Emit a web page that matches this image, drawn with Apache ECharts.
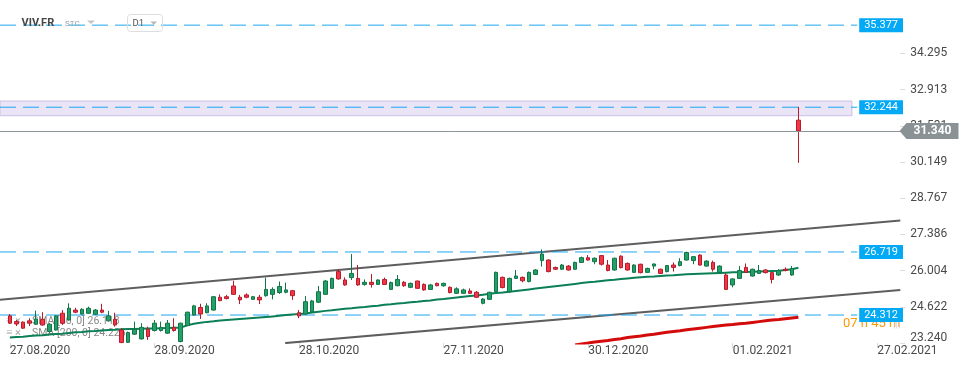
<!DOCTYPE html>
<html>
<head>
<meta charset="utf-8">
<script src="https://cdn.jsdelivr.net/npm/echarts@6/dist/echarts.min.js"></script>
<style>
html,body{margin:0;padding:0;background:#fff;}
#chart{width:970px;height:368px;}
</style>
</head>
<body>
<div id="chart"></div>
<script>
// ---- data ----
const xTickLabels = ['27.08.2020','28.09.2020','28.10.2020','27.11.2020','30.12.2020','01.02.2021','27.02.2021'];
const yTicks = [23.240, 24.622, 26.004, 27.386, 28.767, 30.149, 31.531, 32.913, 34.295];
const levels = [35.377, 32.244, 26.719, 24.312];
const zone = [31.92, 32.48];
const lastPrice = 31.340;
const upperChannel = [[-0.5, 24.893], [136.5, 27.920]];
const lowerChannel = [[42.9, 23.24], [136.5, 25.263]];

const open = [24.28,24.06,24.04,24.09,23.96,24.15,23.68,23.74,24.38,24.12,
 24.50,24.35,24.38,24.34,24.50,24.09,24.15,23.74,23.27,23.58,
 23.40,23.77,23.72,23.72,23.62,23.84,23.30,23.91,24.31,24.60,
 24.40,24.50,24.99,25.01,25.42,24.99,25.08,24.91,24.99,25.05,
 25.10,25.17,25.18,25.24,24.40,24.35,24.44,24.80,25.10,25.33,
 25.97,25.65,25.74,25.71,25.48,25.56,25.48,25.67,25.29,25.43,
 25.56,25.37,25.61,25.48,25.29,25.52,25.43,25.37,25.14,25.14,
 25.23,25.18,24.76,24.91,25.20,25.75,25.20,25.71,25.75,25.59,
 25.86,26.39,26.41,26.13,26.06,26.18,26.06,26.32,26.50,26.35,
 26.58,26.22,26.03,26.56,26.28,25.94,26.25,25.94,26.18,26.06,
 25.97,26.22,26.20,26.41,26.39,26.60,26.18,26.32,25.93,25.84,
 25.46,25.71,26.13,25.80,25.90,26.03,25.93,25.84,26.06,25.84,
 31.75];
const close = [24.00,23.97,23.81,24.00,24.16,23.93,23.96,24.28,24.00,24.57,
 24.42,24.53,24.57,24.50,24.42,24.28,23.93,23.26,23.64,23.77,
 23.84,23.49,24.00,23.84,24.00,23.72,24.00,24.42,24.66,24.35,
 24.66,25.01,24.86,24.94,25.10,24.89,24.99,25.01,24.89,25.29,
 25.29,25.40,25.27,25.05,24.28,24.82,24.85,25.20,25.61,25.71,
 25.69,25.46,25.90,25.46,25.56,25.48,25.65,25.48,25.55,25.67,
 25.43,25.52,25.33,25.27,25.46,25.43,25.52,25.17,25.31,25.27,
 25.14,24.99,24.92,25.18,25.94,25.36,25.71,25.80,25.62,25.94,
 26.03,26.64,25.97,26.06,26.22,26.03,26.32,26.50,26.41,26.48,
 26.25,26.01,26.48,26.12,26.03,26.22,25.93,26.09,26.26,25.90,
 26.20,26.13,26.35,26.70,26.54,26.22,26.37,26.06,26.18,25.29,
 25.69,26.01,25.94,26.06,26.01,25.93,25.67,26.01,26.01,26.09,
 31.34];
const low = [23.97,23.89,23.78,23.89,23.93,23.91,23.64,23.72,23.93,24.10,
 24.38,24.33,24.35,24.31,24.38,24.06,23.87,23.24,23.25,23.55,
 23.38,23.36,23.68,23.68,23.59,23.68,23.27,23.89,24.29,24.16,
 24.38,24.48,24.84,24.91,25.08,24.73,24.95,24.89,24.73,25.01,
 24.91,25.12,25.14,24.89,24.19,24.31,24.42,24.77,25.08,25.31,
 25.66,25.43,25.65,25.43,25.43,25.36,25.46,25.46,25.27,25.41,
 25.39,25.34,25.31,25.24,25.27,25.41,25.39,25.14,25.12,25.12,
 25.12,24.96,24.72,24.89,25.18,25.33,25.17,25.69,25.56,25.56,
 25.84,26.16,25.94,26.03,26.03,26.01,26.03,26.30,26.39,26.25,
 26.20,25.98,26.01,26.09,26.01,25.92,25.90,25.92,26.06,25.88,
 25.94,25.97,26.17,26.39,26.25,26.20,26.16,25.97,25.90,25.27,
 25.37,25.69,25.92,25.78,25.88,25.90,25.52,25.81,25.98,25.81,
 30.12];
const high = [24.35,24.12,24.07,24.19,24.48,24.42,24.00,24.31,24.50,24.76,
 24.59,24.57,24.63,24.54,24.74,24.47,24.40,23.81,23.68,24.06,
 24.00,23.87,24.12,24.06,24.12,24.19,24.02,24.44,24.70,24.74,
 24.76,25.04,25.10,25.08,25.62,25.08,25.14,25.04,25.08,25.74,
 25.37,25.59,25.55,25.27,24.50,25.04,24.89,25.42,25.65,25.74,
 26.06,25.75,26.64,26.22,25.67,25.88,25.67,25.74,25.59,25.84,
 25.61,25.55,25.62,25.52,25.50,25.55,25.55,25.40,25.37,25.32,
 25.33,25.23,24.96,25.20,25.97,25.78,25.74,26.03,25.78,25.97,
 26.06,26.82,26.44,26.16,26.26,26.22,26.35,26.54,26.60,26.51,
 26.60,26.41,26.50,26.59,26.32,26.25,26.27,26.12,26.28,26.08,
 26.22,26.32,26.48,26.73,26.56,26.63,26.40,26.39,26.21,25.90,
 25.71,26.18,26.28,26.08,26.22,26.06,25.95,26.06,26.13,26.18,
 32.26];
const sma50 = [23.45,23.47,23.48,23.51,23.53,23.54,23.57,23.59,23.60,23.63,
 23.65,23.66,23.69,23.70,23.72,23.74,23.75,23.77,
 23.78,23.78,23.79,23.80,23.80,23.81,23.82,23.83,
 23.83,23.92,23.98,24.02,
 24.05,24.07,24.10,24.12,24.14,24.16,
 24.18,24.20,24.22,24.24,24.26,24.28,24.31,24.33,24.35,
 24.37,24.41,24.44,24.47,24.49,24.52,24.55,24.57,24.60,24.62,24.65,24.67,24.70,24.72,24.75,24.77,24.80,24.82,24.85,24.87,24.90,24.92,24.95,24.98,25.01,25.04,25.06,25.09,25.12,25.15,25.17,25.20,25.23,25.26,25.29,25.32,25.35,25.38,25.41,25.44,25.47,25.50,25.53,
 25.56,25.58,25.61,25.64,25.66,25.69,25.71,25.73,25.75,25.77,25.78,25.80,25.82,25.83,25.85,25.87,25.88,25.89,25.90,25.91,25.92,25.93,25.94,25.94,25.95,25.96,25.97,
 25.98,25.99,26.00,26.03,26.06,26.118];
const sma200Start = 86;
const sma200 = [23.17,23.21,23.24,23.28,23.31,23.34,23.38,23.41,23.45,23.48,
 23.51,23.55,23.58,23.62,23.65,23.68,23.71,23.75,23.78,23.81,
 23.84,23.87,23.90,23.93,23.95,23.98,24.00,24.03,24.06,24.09,
 24.12,24.14,24.17,24.20,24.23];
const sma50Label = 'SMA [50, 0] 26.118';
const sma200Label = 'SMA [200, 0] 24.226';
const countdown = '07 h 45 m';

// ---- build ----
const N_CAT = 137; // one leading empty slot + trading days + future slots
const categories = Array.from({length: N_CAT}, (_, i) => String(i));
const candleData = categories.map((_, c) => {
  const k = c - 1;
  return (k >= 0 && k < open.length) ? [open[k], close[k], low[k], high[k]] : '-';
});
const sma50Data = categories.map((_, c) => {
  const k = c - 1;
  return (k >= 0 && k < sma50.length) ? sma50[k] : '-';
});
const sma200Data = categories.map((_, c) => {
  const k = c - 1 - sma200Start;
  return (k >= 0 && k < sma200.length) ? sma200[k] : '-';
});
const showTick = (idx) => idx >= 1 && (idx - 1) % 22 === 0;
const FONT = 'Roboto';
const LEVEL_END = 129.94;
const ZONE_END = 129.14;
const LEVEL_COLOR = '#1ea7f0';

const levelSeries = levels.map(v => ({
  type: 'line', xAxisIndex: 1, z: 2, symbol: 'none', silent: true,
  data: [[-0.5, v], [LEVEL_END, v]],
  color: LEVEL_COLOR,
  lineStyle: {color: LEVEL_COLOR, width: 1, type: [16, 7]},
  endLabel: {
    show: true, formatter: v.toFixed(3), distance: 2,
    color: '#ffffff', backgroundColor: '#03a9f4',
    padding: [1, 5, 1, 5], fontSize: 11, lineHeight: 12, fontFamily: FONT
  }
}));

const chart = echarts.init(document.getElementById('chart'), null, {renderer: 'canvas'});
const option = {
  animation: false,
  grid: {left: -3.9, top: 0, width: 904.2, height: 343.1},
  xAxis: [{
    type: 'category', data: categories, boundaryGap: true,
    axisLine: {show: false, onZero: false},
    axisTick: {show: true, alignWithLabel: true, interval: showTick, length: 5, lineStyle: {color: '#d6d6d6'}},
    axisLabel: {
      interval: showTick, align: 'left', margin: 2, color: '#4a4a4a', fontSize: 12, fontFamily: FONT,
      formatter: (v) => { const i = (parseInt(v, 10) - 1) / 22; return xTickLabels[i] || ''; }
    },
    splitLine: {show: false}
  }, {
    type: 'value', min: -0.5, max: 136.5, show: false,
    axisLine: {show: false, onZero: false}, axisTick: {show: false}, axisLabel: {show: false}, splitLine: {show: false}
  }],
  yAxis: {
    type: 'value', position: 'right', min: 23.24, max: 36.337,
    axisLine: {show: false, onZero: false}, splitLine: {show: false},
    axisTick: {show: true, customValues: yTicks, length: 5, lineStyle: {color: '#dcdcdc'}},
    axisLabel: {
      customValues: yTicks, margin: 10, color: '#4a4a4a', fontSize: 12, fontFamily: FONT,
      formatter: (v) => v === yTicks[0] ? '{b|' + v.toFixed(3) + '}' : v.toFixed(3),
      rich: {b: {color: '#4a4a4a', fontSize: 12, fontFamily: FONT, padding: [0, 0, 10, 0]}}
    }
  },
  series: [
    {
      type: 'line', xAxisIndex: 1, data: lowerChannel, symbol: 'none', z: 1,
      lineStyle: {color: '#5e5e5e', width: 2},
      markArea: {
        silent: true,
        itemStyle: {color: '#e9e4f6', borderColor: '#cbbfe8', borderWidth: 1},
        data: [[{coord: [-0.5, zone[0]]}, {coord: [ZONE_END, zone[1]]}]]
      }
    },
    {
      type: 'line', xAxisIndex: 1, data: upperChannel, symbol: 'none', z: 2,
      lineStyle: {color: '#5e5e5e', width: 2}
    },
    ...levelSeries,
    {
      type: 'line', data: sma50Data, symbol: 'none', z: 2,
      lineStyle: {color: '#0b7f55', width: 2}
    },
    {
      type: 'line', data: sma200Data, symbol: 'none', z: 2,
      lineStyle: {color: '#d40b0b', width: 3}
    },
    {
      type: 'candlestick', data: candleData, barWidth: 4, z: 3,
      itemStyle: {color: '#23a068', color0: '#f23645', borderColor: '#127548', borderColor0: '#b51d2d', borderWidth: 1},
      markLine: {
        silent: true, symbol: 'none',
        lineStyle: {color: '#8d9599', width: 1, type: 'solid'},
        label: {show: false},
        data: [{yAxis: lastPrice}]
      }
    }
  ]
};
chart.setOption(option);

const yLast = chart.convertToPixel({yAxisIndex: 0}, lastPrice);
const yLow = chart.convertToPixel({yAxisIndex: 0}, levels[3]);
chart.setOption({
  graphic: [
    // header
    {type: 'text', x: 21.5, y: 23, z: 10, style: {text: 'VIV.FR', font: 'bold 11px Roboto', fill: '#474747', verticalAlign: 'middle'}},
    {type: 'text', x: 65, y: 24.3, z: 10, style: {text: 'STC', font: '8px Roboto', fill: '#9aa0a6', verticalAlign: 'middle'}},
    {type: 'polygon', z: 10, shape: {points: [[87, 20.5], [95, 20.5], [91, 24]]}, style: {fill: '#c4c4c4'}},
    {type: 'rect', z: 10, shape: {x: 127.5, y: 14.5, width: 35, height: 17, r: 3}, style: {fill: 'none', stroke: '#dddddd', lineWidth: 1}},
    {type: 'text', x: 132.5, y: 23.2, z: 10, style: {text: 'D1', font: '9.5px Roboto', fill: '#555555', verticalAlign: 'middle'}},
    {type: 'polygon', z: 10, shape: {points: [[150.5, 21.5], [157, 21.5], [153.75, 25]]}, style: {fill: '#b8b8b8'}},
    // indicator legend (under the candles)
    {type: 'text', x: 6, y: 321.5, z: 0, style: {text: '≡ ×', font: '11px Roboto', fill: '#a3a3a3', verticalAlign: 'middle'}},
    {type: 'text', x: 32, y: 321.5, z: 0, style: {text: sma50Label, font: '10.5px Roboto', fill: '#8a8a8a', verticalAlign: 'middle'}},
    {type: 'text', x: 6, y: 333, z: 0, style: {text: '≡ ×', font: '11px Roboto', fill: '#a3a3a3', verticalAlign: 'middle'}},
    {type: 'text', x: 32, y: 333, z: 0, style: {text: sma200Label, font: '10.5px Roboto', fill: '#8a8a8a', verticalAlign: 'middle'}},
    // countdown (under the level box)
    {type: 'text', x: 843, y: yLow + 9, z: 0, style: {text: countdown, font: '13px Roboto', fill: '#ff9800', verticalAlign: 'middle'}},
    {type: 'text', x: 893, y: yLow + 9, z: 0, style: {text: '|||', font: '10px Roboto', fill: '#cfcfcf', verticalAlign: 'middle'}},
    // last price tag
    {type: 'polygon', z: 100, shape: {points: [[899.5, yLast], [906.5, yLast - 8], [958.5, yLast - 8], [958.5, yLast + 8], [906.5, yLast + 8]]}, style: {fill: '#8a9295'}},
    {type: 'text', x: 932.5, y: yLast + 0.5, z: 101, style: {text: lastPrice.toFixed(3), font: 'bold 12px Roboto', fill: '#ffffff', align: 'center', verticalAlign: 'middle'}}
  ]
});
</script>
</body>
</html>
